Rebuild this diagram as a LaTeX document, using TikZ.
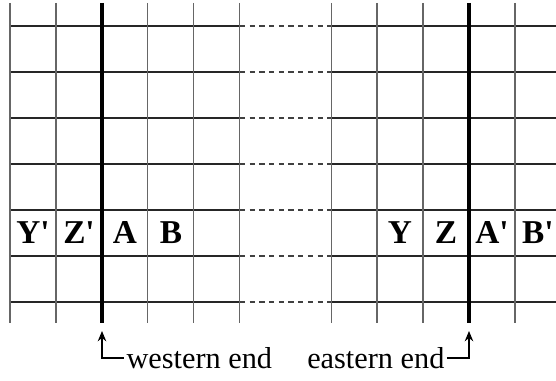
\documentclass[tikz,border=0pt]{standalone}
\usepackage{fontspec}
\setmainfont{Liberation Serif}
\usetikzlibrary{arrows.meta}

\begin{document}
\begin{tikzpicture}[x=0.33pt,y=-0.33pt,line width=0.5pt,
    rung/.style={black!60},
    rail/.style={black!85},
    gapline/.style={black!75,dash pattern=on 1.7pt off 1.5pt},
    seam/.style={black,line width=1.2pt},
    cell/.style={font=\fontsize{11}{13}\selectfont\bfseries,inner sep=0pt},
    tag/.style={font=\fontsize{10}{12}\selectfont,inner sep=0.6pt},
    pointer/.style={-{Stealth[length=3.4pt,width=2.8pt]},line width=0.5pt}]

        \useasboundingbox (0,0) rectangle (556,381);

        % ------------------------------------------------ rows, with the gap between the two ends
        \foreach \y in {26,72,...,302} {
            \draw[rail]    (10,\y)  -- (240,\y);
            \draw[gapline] (240,\y) -- (331,\y);
            \draw[rail]    (331,\y) -- (556,\y);
        }

        % ------------------------------------------------ columns
        \foreach \k in {0,1,3,4,5,7,8,9,11}
            \draw[rung] ({10+45.9*\k},3) -- ({10+45.9*\k},323);
        \draw[seam] (102,3) -- (102,323);
        \draw[seam] (469,3) -- (469,323);

        % cells of the label row
        \node[cell] (yw) at (33,233)  {Y\textquotesingle};
        \node[cell] (zw) at (79,233)  {Z\textquotesingle};
        \node[cell] (aw) at (125,233) {A};
        \node[cell] (bw) at (171,233) {B};

        \node[cell] (ye) at (400,233) {Y};
        \node[cell] (ze) at (446,233) {Z};
        \node[cell] (ae) at (492,233) {A\textquotesingle};
        \node[cell] (be) at (538,233) {B\textquotesingle};

        % ------------------------------------------------ the two ends
        \coordinate (wtip)  at (102,331);
        \coordinate (wbend) at (102,358);
        \node[tag,anchor=west] (wlabel) at (124,358) {western end};
        \draw[pointer] (wlabel.west) -- (wbend) -- (wtip);

        \coordinate (etip)  at (469,331);
        \coordinate (ebend) at (469,358);
        \node[tag,anchor=east] (elabel) at (447,358) {eastern end};
        \draw[pointer] (elabel.east) -- (ebend) -- (etip);

\end{tikzpicture}
\end{document}
